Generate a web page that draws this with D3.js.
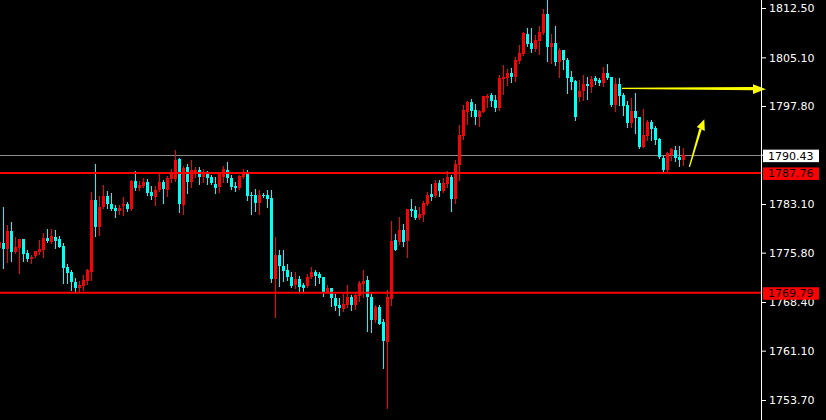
<!DOCTYPE html>
<html><head><meta charset="utf-8">
<script src="https://cdn.jsdelivr.net/npm/d3@7"></script>
<style>html,body{margin:0;padding:0;background:#000;overflow:hidden}</style>
</head><body>
<svg id="c" width="826" height="420"></svg>
<script>
const open = [
1776.5,
1777.25,1776.35,1779.05,1775.9,1776.5,1777.85,1775.75,1774.9,1775.35,1775.95,
1776.2,1778.0,1777.4,1778.15,1777.85,1776.8,1773.65,1772.9,1771.4,1770.55,
1770.85,1771.6,1772.95,1783.7,1779.7,1782.65,1784.3,1783.1,1782.5,1782.05,
1782.8,1783.1,1782.3,1786.55,1785.55,1785.85,1786.4,1784.9,1784.2,1785.25,
1786.4,1785.25,1786.9,1786.9,1789.85,1783.0,1788.65,1786.45,1787.95,1788.2,
1787.2,1787.75,1787.2,1786.15,1785.7,1787.2,1788.2,1787.05,1785.85,1785.55,
1787.2,1787.9,1784.5,1784.45,1783.3,1784.45,1784.5,1784.0,1771.9,1775.45,
1773.8,1773.2,1772.15,1770.95,1771.85,1770.95,1770.8,1772.15,1772.9,1772.6,
1772.15,1769.9,1770.5,1769.0,1767.95,1767.35,1767.95,1769.15,1767.95,1769.3,
1771.1,1771.7,1769.15,1765.7,1767.65,1765.4,1762.4,1768.85,1777.7,1777.4,
1779.2,1777.55,1782.35,1782.2,1781.0,1781.45,1783.1,1784.6,1784.3,1786.25,
1785.05,1786.1,1787.15,1783.85,1788.95,1793.3,1796.9,1798.4,1797.2,1796.15,
1796.9,1799.0,1799.45,1798.7,1797.5,1801.85,1802.0,1802.75,1802.15,1804.55,
1805.6,1808.6,1807.25,1806.35,1807.55,1808.75,1811.6,1806.65,1807.25,1804.4,
1806.2,1804.7,1802.15,1801.55,1799.15,1800.05,1801.1,1800.65,1802.0,1801.7,
1801.25,1802.75,1802.15,1797.95,1801.1,1799.45,1797.95,1795.25,1797.05,1796.15,
1791.65,1793.3,1795.4,1794.5,1792.85,1790.0,1788.2,1790.45,1791.2,1790.15,
1789.7];
const high = [
1777.7,
1782.65,1779.95,1780.4,1778.15,1777.85,1777.85,1776.2,1775.45,1776.05,1777.7,
1778.75,1779.35,1779.35,1779.2,1778.3,1777.25,1774.1,1773.2,1772.0,1771.55,
1772.45,1773.35,1784.9,1789.1,1784.3,1785.95,1785.05,1784.75,1782.95,1782.95,
1784.15,1783.4,1786.7,1788.05,1786.55,1787.0,1786.85,1785.8,1785.8,1787.75,
1786.7,1787.3,1788.35,1791.2,1790.0,1788.8,1789.1,1789.7,1788.65,1788.65,
1788.35,1788.05,1787.45,1787.2,1787.9,1788.8,1789.4,1787.45,1786.45,1787.45,
1788.35,1788.2,1784.9,1785.35,1785.2,1784.75,1785.2,1785.2,1778.15,1776.2,
1776.2,1774.1,1772.9,1772.9,1772.3,1771.25,1772.6,1773.65,1773.2,1772.9,
1772.15,1770.95,1770.5,1769.6,1769.0,1769.6,1770.95,1769.45,1769.9,1771.55,
1773.2,1772.3,1769.6,1767.95,1767.95,1765.85,1770.2,1780.55,1778.6,1781.15,
1780.1,1782.35,1783.85,1782.8,1782.65,1783.55,1784.9,1786.1,1786.7,1786.7,
1787.0,1788.05,1787.45,1789.7,1794.95,1797.95,1798.55,1798.85,1798.1,1797.2,
1799.3,1799.6,1799.75,1799.45,1802.45,1803.95,1803.35,1803.5,1805.15,1806.95,
1808.9,1809.5,1809.5,1808.45,1809.8,1812.35,1813.7,1808.6,1809.8,1806.5,
1806.2,1805.0,1803.05,1801.7,1801.7,1802.45,1802.15,1802.3,1802.3,1802.0,
1803.65,1804.1,1802.15,1802.0,1802.0,1799.75,1798.55,1799.0,1799.75,1796.15,
1797.35,1795.7,1795.7,1794.8,1793.0,1790.3,1790.9,1791.5,1791.8,1791.8,
1791.5];
const low = [
1776.2,
1773.5,1774.4,1774.55,1775.75,1772.75,1774.55,1774.55,1774.3,1775.2,1775.65,
1775.2,1777.4,1777.25,1776.5,1776.65,1771.3,1771.3,1770.25,1769.95,1770.1,
1770.25,1771.15,1771.75,1778.3,1778.45,1782.5,1782.5,1782.2,1781.15,1781.6,
1781.45,1782.05,1782.2,1785.25,1785.25,1785.7,1784.45,1783.9,1783.0,1785.1,
1783.3,1784.35,1786.45,1786.6,1781.95,1781.65,1784.8,1785.7,1787.2,1786.15,
1786.45,1786.15,1786.15,1784.8,1784.95,1786.45,1786.45,1785.4,1785.1,1785.4,
1787.05,1783.75,1781.65,1782.1,1781.65,1784.15,1782.6,1771.45,1766.2,1770.85,
1771.6,1771.7,1770.65,1770.5,1770.05,1769.9,1770.65,1772.0,1770.95,1771.25,
1769.3,1769.75,1767.8,1767.2,1766.45,1767.05,1767.65,1767.2,1767.35,1768.55,
1769.15,1764.05,1763.9,1765.4,1765.1,1758.5,1752.5,1767.95,1776.2,1777.1,
1776.8,1775.15,1781.3,1780.85,1780.85,1780.55,1782.95,1783.7,1784.15,1784.3,
1784.9,1785.65,1782.05,1783.25,1786.7,1792.85,1795.1,1796.3,1795.1,1794.8,
1796.9,1797.65,1797.8,1797.05,1797.2,1799.6,1800.95,1801.4,1801.55,1804.25,
1805.45,1806.8,1805.9,1806.05,1805.6,1808.6,1804.55,1804.25,1803.95,1802.15,
1803.35,1799.75,1800.35,1795.7,1798.55,1798.7,1798.85,1799.9,1801.1,1800.95,
1800.8,1801.85,1797.8,1797.05,1797.95,1796.45,1794.65,1794.65,1793.75,1791.5,
1791.65,1792.7,1792.7,1792.1,1790.0,1787.9,1787.9,1789.7,1789.55,1788.8,
1788.95];
const close = [
1777.4,
1776.35,1779.05,1775.9,1776.65,1777.85,1775.6,1774.85,1775.1,1776.05,1776.35,
1778.0,1777.55,1778.3,1777.55,1776.65,1773.5,1772.8,1771.45,1770.55,1770.95,
1771.7,1773.2,1783.7,1779.7,1782.65,1784.3,1783.1,1782.35,1782.05,1782.5,
1783.1,1782.35,1786.55,1785.55,1785.95,1786.4,1784.8,1784.35,1785.2,1786.4,
1785.4,1787.0,1787.75,1789.7,1783.15,1788.5,1786.45,1788.2,1788.2,1787.2,
1787.9,1787.05,1786.3,1785.55,1787.75,1788.35,1787.05,1785.7,1785.55,1787.3,
1787.9,1784.35,1784.4,1783.3,1784.45,1784.4,1783.9,1771.9,1775.45,1773.8,
1773.05,1772.15,1770.8,1771.85,1770.65,1770.5,1772.15,1772.9,1772.3,1772.0,
1769.9,1770.5,1769.0,1767.8,1767.5,1768.1,1769.15,1767.95,1769.45,1771.25,
1771.55,1769.15,1765.7,1767.65,1765.1,1762.55,1769.15,1777.55,1776.2,1779.2,
1777.4,1782.35,1782.05,1781.0,1781.6,1783.25,1784.45,1784.15,1786.25,1785.05,
1786.25,1787.15,1783.85,1789.1,1793.45,1797.2,1798.4,1797.05,1796.15,1797.05,
1799.3,1799.3,1798.55,1797.5,1802.0,1802.15,1802.75,1802.15,1804.7,1805.75,
1808.75,1807.1,1806.35,1807.7,1808.9,1811.6,1806.65,1807.25,1804.4,1806.2,
1804.7,1802.0,1801.4,1796.15,1800.05,1801.1,1800.8,1801.85,1801.55,1801.25,
1802.75,1802.0,1797.95,1801.1,1799.3,1797.8,1795.25,1797.05,1796.0,1791.65,
1793.45,1795.4,1794.35,1792.7,1790.15,1788.2,1790.75,1791.35,1790.0,1789.7,
1790.43];

const tickValues = [1812.5, 1805.1, 1797.8, 1790.5, 1783.1, 1775.8, 1768.4, 1761.1, 1753.7];
const supportLevels = [1787.76, 1769.79];
const bidPrice = 1790.43;
const arrowLevel = 1800.45;

const W = 826, H = 420, plotRight = 761.5;
const svg = d3.select("#c");
svg.append("rect").attr("width", W).attr("height", H).attr("fill", "#000");

const y = d3.scaleLinear().domain([1753.7, 1812.5]).range([400, 8]);
const n = open.length;
const x = d3.scaleLinear().domain([0, n - 1]).range([-0.5, -0.5 + 4 * (n - 1)]);

const data = d3.range(n).map(i => ({i, o: open[i], h: high[i], l: low[i], c: close[i]}));
const col = d => d.c >= d.o ? "#ff0000" : "#00ffff";

const plot = svg.append("g");

// bid line
plot.append("line").attr("x1", 0).attr("x2", plotRight).attr("y1", Math.round(y(bidPrice)) + 0.5).attr("y2", Math.round(y(bidPrice)) + 0.5)
  .attr("stroke", "#8c8c8c").attr("stroke-width", 1);

const cg = plot.append("g").attr("shape-rendering", "crispEdges");
cg.selectAll("line.w").data(data).join("line").attr("class", "w")
  .attr("x1", d => x(d.i)).attr("x2", d => x(d.i))
  .attr("y1", d => Math.round(y(d.h))).attr("y2", d => Math.round(y(d.l)) + 1)
  .attr("stroke", col).attr("stroke-width", 1);
cg.selectAll("rect.b").data(data).join("rect").attr("class", "b")
  .attr("x", d => x(d.i) - 1.5).attr("width", 3)
  .attr("y", d => Math.round(y(Math.max(d.o, d.c))))
  .attr("height", d => Math.max(1, Math.round(y(Math.min(d.o, d.c))) - Math.round(y(Math.max(d.o, d.c)))))
  .attr("fill", col);

// support lines
plot.selectAll("line.s").data(supportLevels).join("line").attr("class", "s")
  .attr("x1", 0).attr("x2", plotRight).attr("y1", d => y(d)).attr("y2", d => y(d))
  .attr("stroke", "#ff0000").attr("stroke-width", 2);

// yellow arrows
const ya = y(arrowLevel);
plot.append("path").attr("fill", "#ffff00")
  .attr("d", `M622,${ya - 0.7} L753,${ya - 1.4} L753,${ya + 2} L622,${ya + 0.7} Z`);
plot.append("path").attr("fill", "#ffff00")
  .attr("d", `M753,${ya - 4} L766,${ya + 0.8} L753,${ya + 5.6} Z`);
plot.append("path").attr("fill", "#ffff00")
  .attr("d", "M688.8,166.7 L699.3,128.5 L701.8,129.2 L690,167 Z");
plot.append("path").attr("fill", "#ffff00")
  .attr("d", "M696.8,127 L704.3,119.3 L704.8,131 Z");

// right axis
svg.append("line").attr("x1", plotRight).attr("x2", plotRight).attr("y1", 0).attr("y2", H)
  .attr("stroke", "#ffffff").attr("stroke-width", 1);
const axis = d3.axisRight(y).tickValues(tickValues).tickSize(4).tickPadding(3).tickFormat(d => d.toFixed(2));
const ag = svg.append("g").attr("transform", `translate(${plotRight + 0.5},0)`).call(axis);
ag.select(".domain").remove();
ag.selectAll(".tick line").attr("stroke", "#ffffff");
ag.selectAll(".tick text").attr("fill", "#ffffff").attr("font-family", "DejaVu Sans").attr("font-size", 11).attr("dy", "0.35em");

// price boxes
const boxes = [{v: bidPrice, bg: "#ffffff"}, {v: supportLevels[0], bg: "#ff0000"}, {v: supportLevels[1], bg: "#ff0000"}];
const bg = svg.append("g");
boxes.forEach(b => {
  const yy = y(b.v);
  bg.append("rect").attr("x", 763).attr("y", yy - 5.5).attr("width", 56).attr("height", 12.5).attr("fill", b.bg);
  bg.append("text").attr("x", 768).attr("y", yy + 0.7).attr("dy", "0.35em").attr("fill", "#000")
    .attr("font-family", "DejaVu Sans").attr("font-size", 11).text(b.v.toFixed(2));
});
</script>
</body></html>
